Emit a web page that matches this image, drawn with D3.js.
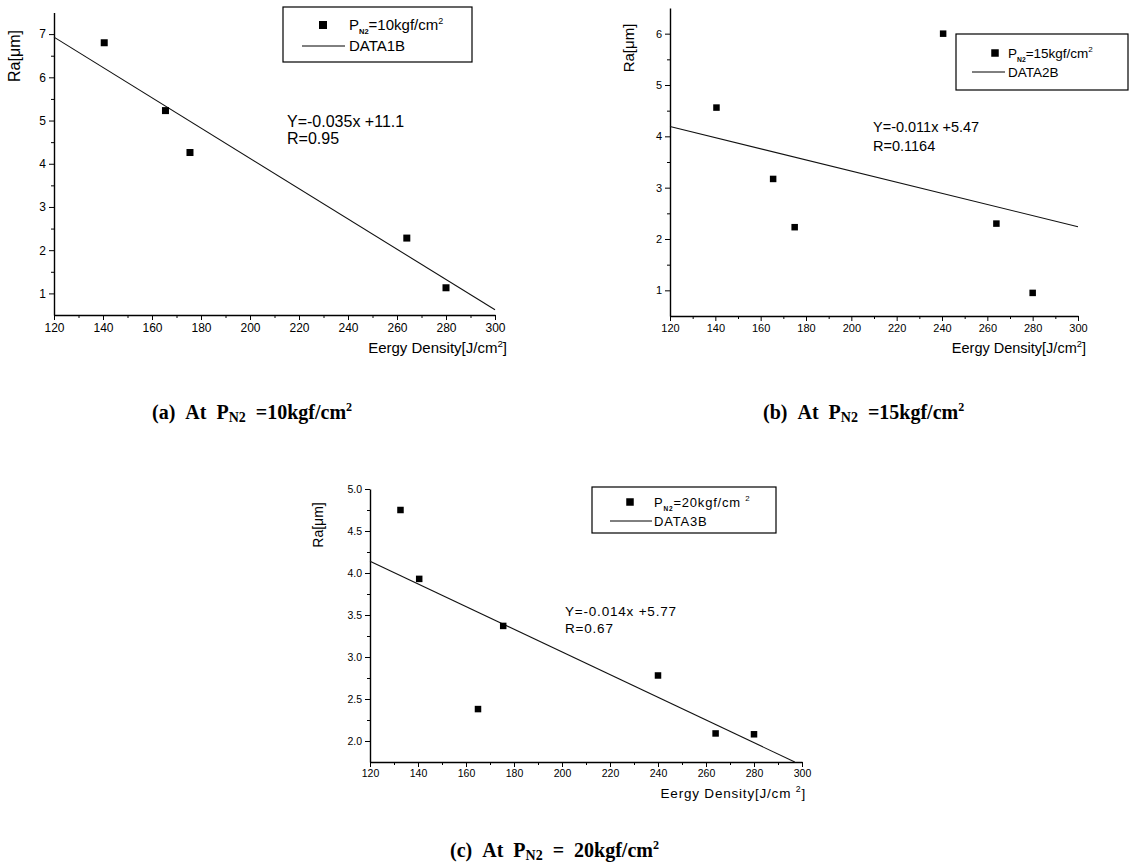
<!DOCTYPE html>
<html>
<head>
<meta charset="utf-8">
<title>Ra vs energy density</title>
<style>
body { margin: 0; background: #fff; }
svg { display: block; }
.axis text { font-family: Arial, "Liberation Sans", sans-serif; fill: #000; }
.axis path, .axis line { stroke: #000; }
.lbl { font-family: Arial, "Liberation Sans", sans-serif; fill: #000; }
.cap { font-family: "Times New Roman", "Liberation Serif", serif; font-weight: bold; fill: #000; }
</style>
</head>
<body>
<script src="https://cdn.jsdelivr.net/npm/d3@7/dist/d3.min.js"></script>
<script>
// ---- data ----
var xTicks = [120, 140, 160, 180, 200, 220, 240, 260, 280, 300];

var xA = [140.5, 165.5, 175.5, 264, 280];
var yA = [6.80, 5.23, 4.26, 2.28, 1.13];
var fitXA = [120, 300];
var fitYA = [6.93, 0.62];
var yTicksA = [1, 2, 3, 4, 5, 6, 7];

var xB = [140.5, 165.5, 175, 240.5, 264, 280];
var yB = [4.56, 3.17, 2.23, 6.00, 2.30, 0.95];
var fitXB = [120, 300];
var fitYB = [4.19, 2.24];
var yTicksB = [1, 2, 3, 4, 5, 6];

var xC = [132.7, 140.5, 165, 175.5, 240, 264, 280];
var yC = [4.75, 3.93, 2.38, 3.37, 2.78, 2.09, 2.08];
var fitXC = [120, 297];
var fitYC = [4.14, 1.75];
var yTicksC = [2.0, 2.5, 3.0, 3.5, 4.0, 4.5, 5.0];

var legendP = ["10", "15", "20"];
var legendFit = ["DATA1B", "DATA2B", "DATA3B"];
var eqText = [["Y=-0.035x +11.1", "R=0.95"], ["Y=-0.011x +5.47", "R=0.1164"], ["Y=-0.014x +5.77", "R=0.67"]];
var capLetter = ["(a)", "(b)", "(c)"];

var svg = d3.select("body").append("svg")
	.attr("width", 1130)
	.attr("height", 868);

function panel(o) {
	var x = d3.scaleLinear().domain([120, 300]).range([o.left, o.right]);
	var y = d3.scaleLinear().domain(o.ydom).range([o.bottom, o.top]);
	var g = svg.append("g");

	// minor ticks
	var minorX = d3.range(130, 300, 20);
	g.append("g").attr("class", "axis")
		.attr("transform", "translate(0," + o.bottom + ")")
		.call(d3.axisBottom(x).tickValues(minorX).tickSize(3).tickSizeOuter(0).tickFormat(""))
		.select(".domain").remove();
	g.append("g").attr("class", "axis")
		.attr("transform", "translate(" + o.left + ",0)")
		.call(d3.axisLeft(y).tickValues(o.minorY).tickSize(3).tickSizeOuter(0).tickFormat(""))
		.select(".domain").remove();

	var ax = g.append("g").attr("class", "axis")
		.attr("transform", "translate(0," + o.bottom + ")")
		.call(d3.axisBottom(x).tickValues(xTicks).tickSize(5).tickSizeOuter(0).tickPadding(3));
	ax.selectAll("text").style("font-size", o.tickFs + "px");
	ax.select(".domain").attr("stroke-width", 1.6);

	var ay = g.append("g").attr("class", "axis")
		.attr("transform", "translate(" + o.left + ",0)")
		.call(d3.axisLeft(y).tickValues(o.yticks).tickSize(5).tickSizeOuter(0).tickPadding(3)
			.tickFormat(o.yfmt));
	ay.selectAll("text").style("font-size", o.tickFs + "px");
	ay.select(".domain").attr("stroke-width", 1.4);

	// fit line
	var line = d3.line().x(function(d){ return x(d[0]); }).y(function(d){ return y(d[1]); });
	g.append("path")
		.datum(o.fx.map(function(v, i){ return [v, o.fy[i]]; }))
		.attr("d", line)
		.attr("fill", "none")
		.attr("stroke", "#111")
		.attr("stroke-width", 1.1);

	// points
	var s = o.msize;
	g.selectAll("rect.pt")
		.data(o.xs)
		.enter()
		.append("rect")
		.attr("class", "pt")
		.attr("x", function(d){ return x(d) - s / 2; })
		.attr("y", function(d, i){ return y(o.ys[i]) - s / 2; })
		.attr("width", s)
		.attr("height", s)
		.attr("fill", "#000");

	// axis titles
	g.append("text").attr("class", "lbl")
		.attr("transform", "translate(" + o.ylab[0] + "," + o.ylab[1] + ") rotate(-90)")
		.attr("text-anchor", "middle")
		.style("font-size", o.yFs + "px")
		.text("Ra[μm]");
	var xl = g.append("text").attr("class", "lbl")
		.attr("x", o.xlab[0]).attr("y", o.xlab[1])
		.attr("text-anchor", "end")
		.style("font-size", o.labFs + "px")
		.style("letter-spacing", o.ls + "px");
	xl.append("tspan").text("Eergy Density[J/cm" + o.sqSpace);
	xl.append("tspan").attr("dy", -6).style("font-size", (o.labFs * 0.65) + "px").text("2");
	xl.append("tspan").attr("dy", 6).text("]");

	// legend
	var L = o.leg;
	var ms = s + 1;
	g.append("rect")
		.attr("x", L.x).attr("y", L.y).attr("width", L.w).attr("height", L.h)
		.attr("fill", "#fff").attr("stroke", "#000").attr("stroke-width", 1.2);
	g.append("rect")
		.attr("x", L.mx - ms / 2).attr("y", L.r1 - ms / 2).attr("width", ms).attr("height", ms)
		.attr("fill", "#000");
	g.append("line")
		.attr("x1", L.lx1).attr("x2", L.lx2).attr("y1", L.r2).attr("y2", L.r2)
		.attr("stroke", "#000").attr("stroke-width", 1);
	var t1 = g.append("text").attr("class", "lbl")
		.attr("x", L.tx).attr("y", L.r1 + L.fs * 0.36)
		.style("font-size", L.fs + "px")
		.style("letter-spacing", o.ls + "px");
	t1.append("tspan").text("P");
	t1.append("tspan").attr("dy", 4).style("font-size", (L.fs * 0.5) + "px").style("font-weight", "bold").text("N2");
	t1.append("tspan").attr("dy", -4).text("=" + legendP[o.k] + "kgf/cm" + o.sqSpace);
	t1.append("tspan").attr("dy", -6).style("font-size", (L.fs * 0.6) + "px").text("2");
	g.append("text").attr("class", "lbl")
		.attr("x", L.tx).attr("y", L.r2 + L.fs * 0.36)
		.style("font-size", L.fs + "px")
		.style("letter-spacing", o.ls + "px")
		.text(legendFit[o.k]);

	// equation
	eqText[o.k].forEach(function(t, i) {
		g.append("text").attr("class", "lbl")
			.attr("x", o.eq[0]).attr("y", o.eq[1] + i * o.eq[2])
			.style("font-size", o.eqFs + "px")
			.style("letter-spacing", o.ls + "px")
			.text(t);
	});

	// caption
	var c = svg.append("text").attr("class", "cap")
		.attr("x", o.cap[0]).attr("y", o.cap[1])
		.style("font-size", "20px");
	c.append("tspan").text(capLetter[o.k] + "\u00a0\u00a0At\u00a0\u00a0P");
	c.append("tspan").attr("dy", 3).style("font-size", "14px").text("N2");
	c.append("tspan").attr("dy", -3).text(o.capEq);
	c.append("tspan").attr("dy", -8).style("font-size", "12px").text("2");
}

panel({ k: 0, left: 54, right: 495, top: 12.5, bottom: 315, ydom: [0.5, 7.5],
	yticks: yTicksA, minorY: [1.5, 2.5, 3.5, 4.5, 5.5, 6.5], yfmt: d3.format("d"),
	xs: xA, ys: yA, fx: fitXA, fy: fitYA, msize: 7, tickFs: 12, labFs: 15, yFs: 16, ls: 0,
	ylab: [20, 56], xlab: [507, 353], sqSpace: "",
	leg: { x: 283, y: 7, w: 189, h: 55, mx: 323, r1: 25, r2: 46, lx1: 302, lx2: 345, tx: 349, fs: 15 },
	eq: [287, 127, 17], eqFs: 16,
	cap: [152, 419], capEq: "\u00a0\u00a0=10kgf/cm" });

panel({ k: 1, left: 670, right: 1078, top: 8, bottom: 316, ydom: [0.5, 6.5],
	yticks: yTicksB, minorY: [1.5, 2.5, 3.5, 4.5, 5.5], yfmt: d3.format("d"),
	xs: xB, ys: yB, fx: fitXB, fy: fitYB, msize: 6.5, tickFs: 11, labFs: 14.5, yFs: 15, ls: 0,
	ylab: [634, 48], xlab: [1086, 353], sqSpace: "",
	leg: { x: 956, y: 34, w: 172, h: 56, mx: 995, r1: 53, r2: 72, lx1: 972, lx2: 1005, tx: 1008, fs: 13.5 },
	eq: [873, 132, 19], eqFs: 14.5,
	cap: [763, 419], capEq: "\u00a0\u00a0=15kgf/cm" });

panel({ k: 2, left: 370, right: 802, top: 489, bottom: 762, ydom: [1.75, 5.0],
	yticks: yTicksC, minorY: [2.25, 2.75, 3.25, 3.75, 4.25, 4.75], yfmt: d3.format(".1f"),
	xs: xC, ys: yC, fx: fitXC, fy: fitYC, msize: 6.5, tickFs: 10.5, labFs: 13.5, yFs: 14, ls: 0.8,
	ylab: [323, 525], xlab: [806, 798], sqSpace: " ",
	leg: { x: 592, y: 487, w: 184, h: 46, mx: 630, r1: 502, r2: 521, lx1: 610, lx2: 652, tx: 654, fs: 13 },
	eq: [565, 616, 17], eqFs: 13.5,
	cap: [450, 857], capEq: "\u00a0\u00a0=\u00a0\u00a020kgf/cm" });
</script>
</body>
</html>
